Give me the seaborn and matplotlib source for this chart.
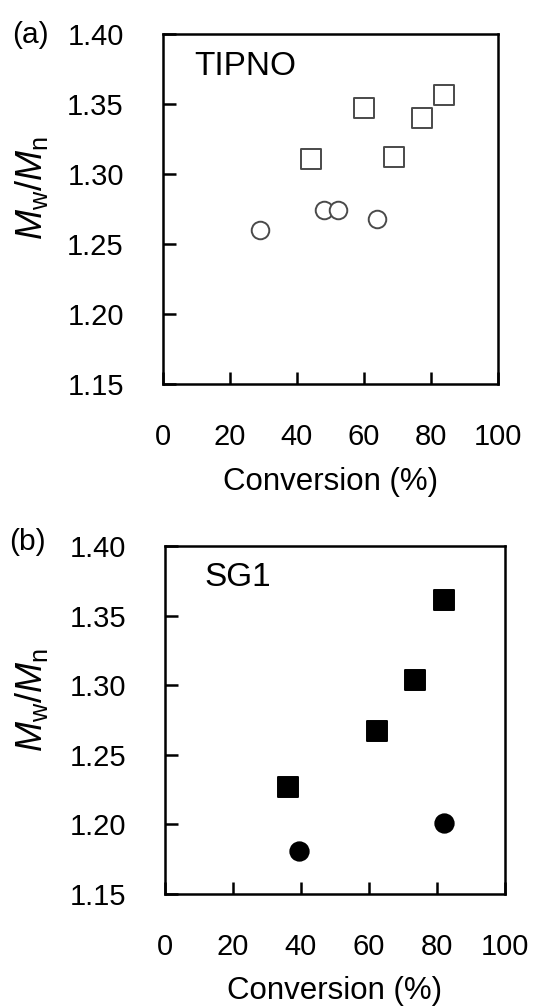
import matplotlib
matplotlib.use("Agg")
import matplotlib.pyplot as plt
import seaborn as sns
import pandas as pd

# TIPNO (panel a), open symbols
tipno_sq_x = [44.1, 60.1, 69.1, 77.2, 84.0]
tipno_sq_y = [1.311, 1.347, 1.312, 1.340, 1.356]
tipno_ci_x = [29.0, 48.1, 52.2, 64.0]
tipno_ci_y = [1.260, 1.274, 1.274, 1.268]

# SG1 (panel b), filled symbols
sg1_sq_x = [36.2, 62.4, 73.6, 82.3]
sg1_sq_y = [1.227, 1.267, 1.304, 1.361]
sg1_ci_x = [39.4, 82.1]
sg1_ci_y = [1.181, 1.201]

x_ticks = [0, 20, 40, 60, 80, 100]
y_ticks = [1.15, 1.20, 1.25, 1.30, 1.35, 1.40]

sns.set_theme(style="white")
plt.rcParams.update({
    "font.family": ["Liberation Sans", "DejaVu Sans"],
    "mathtext.fontset": "custom",
    "mathtext.rm": "Liberation Sans",
    "mathtext.it": "Liberation Sans:italic",
    "text.color": "black",
    "axes.labelcolor": "black",
    "axes.edgecolor": "black",
    "axes.linewidth": 1.8,
})

fig = plt.figure(figsize=(5.35, 10.06), dpi=100)
ax_a = fig.add_axes([0.304, 0.618, 0.627, 0.3484])
ax_b = fig.add_axes([0.309, 0.1113, 0.634, 0.346])


def draw_panel(ax, sq_x, sq_y, ci_x, ci_y, filled, name, name_x, name_y, ylab_x, ylab_y):
    face = "black" if filled else "white"
    edge = "black" if filled else "#4a4a4a"
    sq = pd.DataFrame({"x": sq_x, "y": sq_y})
    ci = pd.DataFrame({"x": ci_x, "y": ci_y})
    sq_size = 205 if filled else 195
    ci_size = 175 if filled else 160
    sns.scatterplot(data=sq, x="x", y="y", ax=ax, marker="s", s=sq_size,
                    color=face, edgecolor=edge, linewidth=1.4, zorder=3)
    sns.scatterplot(data=ci, x="x", y="y", ax=ax, marker="o", s=ci_size,
                    color=face, edgecolor=edge, linewidth=1.4, zorder=3)
    ax.set_xlim(0, 100)
    ax.set_ylim(1.15, 1.40)
    ax.set_xticks(x_ticks)
    ax.set_yticks(y_ticks)
    ax.set_xticklabels([str(v) for v in x_ticks])
    ax.set_yticklabels([f"{v:.2f}" for v in y_ticks])
    ax.tick_params(direction="in", length=9, width=1.8, labelsize=21,
                   colors="black", pad=28, bottom=True, left=True,
                   top=False, right=False)
    for sp in ax.spines.values():
        sp.set_visible(True)
        sp.set_color("black")
        sp.set_linewidth(1.8)
    ax.set_xlabel("Conversion (%)", fontsize=22.5)
    ax.set_ylabel(r"$M_{\mathrm{w}}$/$M_{\mathrm{n}}$", fontsize=26)
    ax.xaxis.set_label_coords(0.5, -0.235)
    ax.yaxis.set_label_coords(ylab_x, ylab_y)
    ax.text(name_x, name_y, name, transform=ax.transAxes, fontsize=24,
            ha="left", va="center")


draw_panel(ax_a, tipno_sq_x, tipno_sq_y, tipno_ci_x, tipno_ci_y, False,
           "TIPNO", 0.094, 0.906, -0.336, 0.56)
draw_panel(ax_b, sg1_sq_x, sg1_sq_y, sg1_ci_x, sg1_ci_y, True,
           "SG1", 0.115, 0.908, -0.341, 0.557)

fig.text(30 / 535, 1 - 35 / 1006, "(a)", fontsize=21.5, ha="center", va="center")
fig.text(27 / 535, 1 - 542 / 1006, "(b)", fontsize=21.5, ha="center", va="center")

fig.savefig("out.png", dpi=100)
